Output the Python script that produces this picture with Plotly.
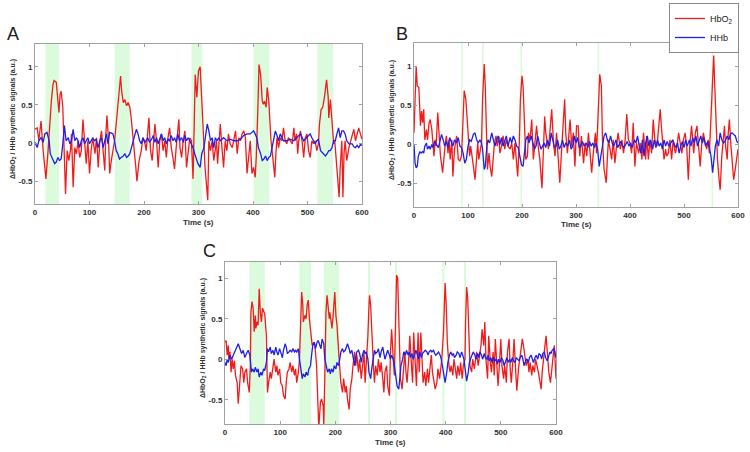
import plotly.graph_objects as go

# ---------------- data (time s, value a.u.) ----------------
a_red = [(0,0.18),(4,0.2),(7,0.03),(11,0.29),(15,-0.1),(20,-0.47),(24,-0.1),(27,0.25),(30,0.55),(33,0.77),(35,0.82),(39,0.8),(42,0.6),(44,0.4),(46,0.64),(48,0.68),(51,0.47),(54,-0.32),(56,-0.67),(59,-0.1),(62,-0.23),(65,-0.1),(67,0.12),(70,-0.58),(73,-0.06),(76,-0.14),(79,0.03),(82,-0.19),(85,-0.1),(88,0.31),(91,0.03),(94,-0.27),(97,0.03),(100,-0.4),(103,-0.1),(106,0.07),(110,-0.14),(113,0.07),(116,-0.32),(119,0.03),(122,0.16),(125,-0.1),(128,-0.36),(130,0.12),(132,0.36),(135,0.03),(137,-0.4),(140,-0.23),(143,-0.1),(146,0.03),(149,0.25),(152,0.47),(154,0.64),(157,0.88),(159,0.68),(162,0.53),(165,0.57),(168,0.49),(171,0.53),(174,0.47),(176,0.36),(179,0.16),(182,-0.1),(185,-0.32),(187,-0.5),(191,-0.23),(195,-0.1),(198,0.07),(201,0.03),(204,-0.1),(209,0.33),(212,-0.1),(215,-0.23),(220,0.25),(223,0.03),(226,-0.32),(229,0.03),(232,0.12),(235,-0.1),(238,0.03),(241,-0.19),(244,0.07),(247,0.2),(250,-0.06),(253,-0.19),(256,-0.34),(259,-0.06),(264,0.31),(266,-0.06),(269,-0.19),(272,0.03),(275,0.16),(278,-0.32),(281,-0.1),(284,0.07),(287,0.03),(290,-0.47),(292,0.2),(294,0.9),(297,0.6),(300,0.95),(303,1.0),(306,0.55),(309,0.0),(312,-0.32),(317,-0.75),(319,0.03),(322,-0.1),(325,0.03),(328,-0.23),(331,-0.1),(333,0.03),(335,-0.27),(338,0.03),(340,0.25),(343,-0.06),(346,-0.32),(349,0.03),(352,-0.1),(355,0.12),(358,-0.01),(362,-0.06),(365,0.03),(368,0.16),(371,-0.14),(374,0.07),(377,0.03),(380,0.12),(383,0.16),(386,0.07),(389,-0.4),(392,-0.19),(395,0.03),(398,-0.4),(401,-0.32),(404,-0.45),(406,-0.19),(409,0.47),(411,1.03),(414,0.9),(417,0.55),(419,0.51),(421,0.55),(424,0.47),(426,0.73),(429,0.55),(431,0.25),(433,0.03),(435,-0.1),(437,-0.27),(440,-0.45),(442,-0.14),(444,0.07),(447,-0.06),(450,0.07),(453,0.03),(456,0.2),(459,0.03),(462,-0.01),(465,0.07),(468,0.03),(472,-0.01),(475,0.2),(477,0.03),(480,0.12),(482,-0.14),(484,0.03),(487,0.16),(490,0.03),(493,-0.19),(496,0.07),(499,0.12),(502,-0.1),(505,-0.19),(508,0.03),(511,-0.01),(514,0.03),(517,-0.1),(520,-0.01),(522,0.25),(525,0.44),(528,0.47),(531,0.6),(533,0.75),(535,0.83),(538,0.6),(539,0.33),(542,0.57),(544,0.33),(546,0.12),(548,-0.01),(550,0.03),(553,-0.23),(555,-0.45),(558,-0.71),(560,-0.32),(563,0.03),(565,-0.71),(567,-0.14),(569,0.03),(572,-0.23),(576,-0.06),(579,0.03),(582,0.12),(585,0.18),(588,0.03),(591,0.1),(594,0.2),(597,0.12),(600,0.05)]
a_blue = [(0,0.01),(4,-0.06),(7,0.03),(11,0.07),(15,0.01),(18,0.12),(22,0.14),(26,0.03),(28,-0.14),(31,-0.19),(33,-0.21),(36,-0.27),(39,-0.25),(42,-0.19),(45,-0.23),(48,-0.21),(51,-0.01),(54,0.23),(57,0.03),(61,0.07),(64,-0.01),(67,0.03),(70,0.18),(73,0.03),(76,0.07),(79,0.03),(82,-0.06),(85,0.03),(88,0.07),(91,-0.01),(94,0.03),(97,0.07),(100,-0.01),(103,0.03),(106,0.07),(109,0.03),(112,0.05),(116,-0.06),(119,0.03),(122,0.07),(125,-0.06),(128,0.03),(131,0.12),(134,-0.01),(137,0.14),(140,0.13),(143,0.12),(146,0.03),(149,-0.1),(152,-0.14),(155,-0.21),(158,-0.19),(162,-0.17),(165,-0.14),(168,-0.19),(171,-0.17),(174,-0.14),(177,-0.06),(180,0.03),(183,0.12),(186,0.18),(189,0.12),(192,0.03),(195,-0.01),(198,0.07),(201,0.01),(204,0.03),(207,0.07),(210,0.01),(214,0.05),(217,0.1),(220,0.01),(223,0.07),(226,-0.01),(229,0.05),(232,0.12),(235,0.03),(238,0.07),(241,-0.01),(244,0.05),(247,0.03),(250,0.1),(253,0.03),(256,0.07),(259,0.01),(262,0.12),(265,0.03),(269,0.07),(272,0.01),(275,0.1),(278,0.03),(281,0.07),(284,0.03),(287,-0.01),(290,-0.06),(293,-0.14),(296,-0.21),(299,-0.27),(303,-0.32),(306,-0.14),(310,-0.06),(313,0.12),(316,0.25),(319,0.16),(322,0.03),(325,0.07),(328,-0.06),(331,0.07),(334,0.03),(337,0.07),(340,0.03),(343,0.05),(346,0.07),(352,0.03),(358,0.05),(365,0.03),(371,0.03),(377,0.05),(383,0.1),(389,0.12),(395,0.12),(398,0.14),(401,0.16),(404,0.12),(407,0.07),(410,-0.06),(414,-0.14),(417,-0.23),(420,-0.21),(423,-0.17),(426,-0.23),(429,-0.19),(432,-0.17),(435,-0.06),(438,0.03),(441,0.16),(444,0.1),(447,0.03),(450,0.12),(453,0.07),(456,0.03),(462,0.03),(468,0.05),(475,0.03),(481,0.07),(487,0.12),(493,0.03),(499,0.07),(505,0.12),(508,0.07),(511,0.03),(514,-0.01),(517,0.03),(520,0.05),(524,-0.1),(527,-0.12),(530,-0.14),(533,-0.17),(536,-0.14),(539,-0.1),(542,-0.1),(545,-0.06),(548,0.03),(551,0.03),(554,0.12),(557,0.2),(560,0.07),(563,0.16),(566,0.16),(569,0.12),(572,0.03),(576,-0.01),(579,-0.01),(582,-0.01),(585,-0.05),(588,-0.06),(591,-0.03),(594,-0.06),(597,-0.02),(600,-0.03)]

b_red = [(0,0.15),(2,0.7),(4,1.0),(6,0.75),(9,0.73),(11,0.4),(12,0.24),(14,0.43),(16,0.28),(18,0.45),(20,0.06),(23,0.19),(25,0.06),(28,0.28),(30,0.32),(33,0.19),(35,-0.02),(37,-0.15),(39,0.06),(41,-0.02),(44,0.41),(46,0.19),(49,-0.15),(53,-0.36),(55,-0.15),(58,0.02),(60,0.11),(63,-0.11),(65,0.06),(67,-0.19),(70,0.06),(72,-0.41),(75,-0.06),(79,0.11),(82,-0.19),(85,-0.21),(88,-0.15),(91,0.36),(93,0.69),(96,0.58),(98,0.32),(101,0.02),(103,-0.15),(105,-0.02),(107,-0.11),(110,-0.28),(113,-0.45),(116,-0.15),(118,0.02),(120,-0.19),(122,-0.11),(125,0.02),(127,0.58),(130,1.03),(132,0.75),(134,0.06),(136,-0.32),(139,-0.11),(141,-0.28),(144,-0.41),(147,-0.19),(149,0.02),(152,0.11),(154,-0.02),(157,0.11),(159,-0.11),(162,-0.02),(165,0.11),(168,-0.06),(171,0.06),(174,-0.02),(178,-0.06),(181,0.02),(184,-0.19),(187,0.02),(190,-0.32),(192,-0.41),(195,0.02),(197,0.58),(200,0.88),(202,0.75),(205,0.19),(207,-0.19),(210,-0.15),(212,0.15),(215,0.06),(218,0.32),(221,-0.19),(224,0.02),(227,0.24),(230,-0.02),(233,-0.19),(237,-0.56),(239,-0.11),(242,0.36),(244,0.15),(247,-0.02),(249,-0.06),(252,0.19),(255,0.45),(258,0.06),(261,-0.15),(264,0.15),(267,-0.11),(270,-0.49),(273,-0.11),(276,0.32),(279,0.58),(281,0.15),(284,-0.11),(286,0.06),(289,0.32),(292,-0.02),(295,0.15),(298,-0.28),(301,0.24),(304,0.24),(307,-0.15),(310,0.11),(314,-0.24),(317,0.02),(320,-0.15),(323,0.15),(326,-0.06),(329,-0.36),(332,-0.11),(336,0.15),(338,-0.11),(341,0.45),(344,0.9),(347,0.75),(349,0.06),(352,-0.32),(356,-0.49),(358,-0.19),(360,0.06),(363,-0.06),(366,-0.19),(369,0.06),(372,-0.24),(375,-0.02),(378,0.15),(382,-0.06),(385,0.06),(388,-0.11),(391,0.06),(394,0.39),(397,0.06),(400,0.02),(403,-0.11),(406,0.28),(409,-0.28),(412,0.02),(416,-0.11),(419,0.02),(422,-0.19),(425,0.15),(429,-0.19),(431,0.11),(434,-0.19),(437,0.06),(440,-0.11),(443,0.32),(446,0.06),(450,-0.02),(453,0.19),(456,0.45),(458,0.24),(461,-0.11),(463,-0.19),(466,-0.06),(468,-0.15),(471,-0.11),(474,0.06),(477,-0.19),(480,0.06),(484,-0.11),(487,-0.02),(490,0.15),(493,0.02),(496,-0.11),(499,0.06),(502,0.15),(505,-0.02),(508,-0.45),(511,0.02),(514,0.24),(518,-0.11),(521,0.15),(524,0.24),(527,-0.02),(530,-0.28),(533,0.02),(536,0.15),(539,0.02),(542,-0.06),(545,0.06),(547,-0.11),(550,0.36),(552,0.79),(555,1.14),(557,0.75),(560,0.15),(562,-0.19),(565,-0.45),(567,-0.58),(570,-0.15),(572,0.02),(575,0.24),(577,-0.02),(580,-0.19),(582,0.15),(584,0.32),(587,-0.02),(589,-0.19),(592,-0.45),(594,-0.36),(597,-0.19),(600,-0.06)]
b_blue = [(0,0),(2,-0.24),(4,-0.3),(6,-0.28),(8,-0.15),(11,-0.09),(13,-0.11),(16,-0.09),(18,-0.11),(20,-0.02),(23,0.02),(25,-0.06),(28,-0.02),(30,-0.06),(33,0),(35,-0.04),(38,0.04),(41,0),(45,-0.04),(48,0.04),(51,0.13),(54,0.06),(57,-0.02),(60,0.04),(63,-0.04),(66,0.09),(69,0.02),(72,-0.02),(75,0.06),(79,0.02),(82,0.09),(85,-0.02),(88,-0.04),(91,-0.11),(94,-0.24),(97,-0.19),(100,-0.02),(103,0.06),(106,0.04),(110,0.13),(113,0.15),(116,0.06),(119,0.02),(122,0.06),(125,0.02),(127,-0.06),(130,-0.32),(132,-0.28),(135,-0.02),(137,0.06),(140,0.02),(144,0.15),(147,0.06),(150,-0.02),(153,0.06),(156,0.11),(159,0),(162,0.09),(165,-0.02),(168,0.06),(171,0.11),(174,-0.02),(178,0.09),(181,0.02),(184,0.11),(187,0.06),(190,-0.02),(193,-0.04),(196,-0.15),(199,-0.26),(202,-0.28),(204,-0.11),(207,0.06),(210,0.11),(213,0.02),(217,0.11),(220,0),(223,-0.06),(226,-0.02),(229,0.11),(232,0.02),(235,-0.06),(238,-0.02),(241,0.02),(244,-0.04),(247,0.06),(251,-0.02),(254,0.15),(257,0.06),(260,-0.04),(263,-0.02),(266,0.06),(269,-0.06),(272,-0.02),(275,0.06),(278,-0.04),(281,0.02),(285,-0.02),(288,0.06),(291,-0.06),(294,-0.02),(297,0.11),(300,0.02),(303,0.09),(306,-0.04),(309,-0.02),(312,0.04),(315,-0.02),(319,0.02),(322,-0.04),(325,0.04),(328,-0.02),(331,0.02),(334,-0.04),(337,0.02),(340,-0.06),(343,-0.28),(346,-0.15),(349,0.02),(352,0.11),(355,0.15),(358,0.06),(361,0.02),(364,0.11),(367,0.02),(370,-0.02),(374,0.06),(377,-0.04),(380,0),(383,0.04),(386,-0.02),(389,-0.04),(392,0),(395,0.04),(398,-0.02),(401,0.02),(404,-0.04),(408,0.06),(411,0.02),(414,0.11),(417,-0.02),(420,-0.11),(423,0.06),(426,-0.15),(429,0.02),(432,0.11),(435,-0.02),(438,0.06),(442,-0.06),(445,0.06),(448,-0.04),(451,0.06),(454,-0.02),(457,0.02),(460,-0.06),(463,0.06),(466,-0.02),(469,0.04),(472,-0.02),(476,0.02),(479,0.06),(482,0),(485,-0.04),(488,0.02),(491,-0.11),(494,-0.02),(497,0.04),(500,-0.04),(503,0.06),(506,-0.02),(510,0.06),(513,-0.02),(516,0.09),(519,0.02),(522,0.11),(525,-0.02),(528,0.06),(531,0.11),(534,0.02),(537,0.09),(540,-0.02),(544,0.04),(547,-0.04),(550,-0.15),(553,-0.36),(555,-0.24),(558,-0.02),(561,0.06),(564,-0.02),(567,0.15),(570,0.06),(573,0.02),(576,0.04),(580,0.11),(583,0.06),(586,0.13),(589,0.15),(592,0.13),(595,0.11),(598,0.04),(600,0.02)]

c_red = [(0,0.21),(2,0.23),(4,0.05),(6,0.17),(7,0),(9,0.09),(11,-0.16),(13,0),(15,-0.12),(17,-0.02),(19,-0.2),(22,-0.29),(24,-0.55),(27,-0.29),(29,-0.08),(32,-0.12),(34,-0.29),(36,-0.16),(39,-0.12),(41,-0.29),(44,-0.41),(46,-0.08),(47,0.58),(49,0.71),(51,0.63),(53,0.34),(55,0.54),(56,0.38),(58,0.46),(60,0.42),(62,0.87),(64,0.58),(66,0.46),(68,0.63),(70,0.6),(72,0.56),(75,0.29),(77,-0.41),(79,-0.29),(82,-0.16),(84,-0.24),(87,-0.08),(89,0),(92,-0.16),(94,-0.08),(96,-0.2),(99,-0.12),(101,-0.29),(104,-0.33),(106,-0.45),(109,-0.49),(111,-0.29),(113,-0.16),(116,-0.12),(118,-0.04),(121,-0.16),(123,-0.08),(126,-0.2),(128,-0.12),(130,-0.29),(133,-0.16),(135,0),(137,0.46),(139,0.83),(141,0.67),(142,0.46),(145,0.54),(147,0.5),(149,0.67),(151,0.73),(153,0.5),(156,0.25),(158,0.17),(161,0.21),(163,0.17),(166,-0.08),(168,-0.58),(170,-0.85),(173,-0.53),(175,-0.49),(178,-0.58),(179,-0.82),(181,-0.2),(183,0.58),(185,0.79),(187,0.58),(189,0.5),(190,0.58),(192,0.46),(194,0.38),(196,0.54),(198,0.75),(199,0.83),(201,0.54),(203,0.42),(206,0.09),(208,-0.08),(210,-0.29),(213,-0.41),(215,-0.24),(218,-0.41),(220,-0.33),(222,-0.49),(225,-0.62),(227,-0.37),(230,-0.24),(232,-0.08),(235,0.09),(237,-0.08),(239,0.05),(242,-0.16),(244,0),(247,-0.24),(249,-0.08),(252,0.09),(254,-0.29),(256,-0.08),(259,0.29),(261,0.67),(262,0.79),(264,0.67),(266,0.29),(269,-0.08),(271,-0.29),(273,-0.08),(276,-0.2),(278,0),(281,-0.16),(283,-0.04),(286,-0.24),(288,-0.41),(290,-0.16),(293,-0.08),(295,-0.33),(298,-0.45),(300,0.09),(302,0.37),(305,0),(307,-0.2),(309,0.42),(311,1.04),(313,1.0),(315,0.58),(316,0.09),(318,-0.24),(321,-0.37),(323,-0.16),(326,0.09),(328,-0.16),(330,-0.29),(333,0),(335,0.29),(338,-0.08),(340,-0.29),(342,0.33),(345,0),(347,-0.33),(350,0.33),(352,-0.16),(355,0.33),(357,-0.08),(359,-0.29),(362,-0.16),(364,-0.33),(367,-0.12),(369,-0.29),(372,-0.08),(374,0.05),(376,-0.16),(379,-0.33),(381,-0.37),(384,-0.29),(386,-0.12),(389,-0.24),(391,-0.12),(393,0),(396,0.33),(398,0.83),(399,0.94),(401,0.67),(403,0.21),(406,-0.08),(408,-0.16),(410,-0.08),(413,-0.2),(415,0),(418,-0.12),(420,-0.24),(422,-0.08),(425,-0.2),(427,-0.04),(430,-0.24),(432,-0.08),(435,0),(436,0.42),(438,0.89),(440,0.75),(442,0.29),(444,-0.08),(447,-0.16),(449,0),(452,-0.12),(454,0),(456,0.09),(459,-0.08),(461,0),(464,0.17),(466,0.37),(469,0.17),(471,0.46),(473,0),(476,-0.24),(478,0.29),(481,-0.04),(483,-0.16),(486,0.09),(488,-0.2),(490,0.25),(493,-0.16),(495,-0.33),(498,0),(500,0.25),(502,-0.08),(505,-0.24),(507,-0.08),(510,-0.29),(512,0.09),(515,0.25),(517,-0.12),(519,-0.29),(522,0),(524,0.25),(527,-0.16),(529,-0.39),(532,-0.12),(534,0),(536,0.09),(539,0.25),(541,0.17),(544,0.05),(546,-0.08),(549,0),(551,-0.16),(553,-0.04),(556,-0.2),(558,-0.08),(561,-0.16),(563,0),(566,-0.08),(568,-0.16),(570,-0.24),(573,-0.37),(575,-0.16),(578,0),(580,0.17),(582,0.29),(585,0),(587,-0.16),(590,-0.29),(592,-0.12),(595,0.05),(597,0.17),(600,-0.24)]
c_blue = [(0,-0.04),(2,-0.08),(4,0),(6,-0.04),(9,0.05),(12,0),(15,0.05),(18,0.09),(21,0.13),(24,0.19),(27,0.13),(30,0.07),(33,0.11),(36,0.02),(39,0.07),(42,0.11),(45,0.05),(48,-0.16),(50,-0.12),(53,-0.16),(55,-0.1),(58,-0.16),(60,-0.12),(62,-0.22),(65,-0.16),(67,-0.2),(70,-0.12),(72,-0.14),(75,-0.04),(77,0.13),(79,0.09),(82,0.15),(84,0.07),(87,0.11),(89,0.05),(92,0.15),(94,0.09),(96,0.05),(99,0.13),(101,0.07),(104,0.02),(106,0.11),(109,0.19),(111,0.15),(113,0.07),(116,0.09),(118,0.11),(121,0.09),(123,0.13),(126,0.09),(128,0.11),(130,0.09),(133,0.13),(135,0),(138,-0.16),(140,-0.24),(142,-0.18),(145,-0.22),(147,-0.16),(150,-0.2),(152,-0.12),(155,-0.08),(157,0.05),(159,0.17),(162,0.21),(164,0.13),(167,0.21),(169,0.23),(172,0.17),(174,0.13),(176,0.25),(179,0.19),(181,0),(184,-0.12),(186,-0.16),(189,-0.12),(191,-0.18),(193,-0.12),(196,-0.16),(198,-0.08),(201,-0.12),(203,-0.04),(206,-0.08),(208,0),(210,0.09),(213,0.13),(215,0.09),(218,0.11),(220,0.17),(222,0.19),(225,0.13),(227,0.07),(230,0.11),(232,0.05),(235,-0.08),(237,0.02),(239,0.09),(242,0.11),(244,0.07),(247,-0.04),(249,0.05),(252,0.11),(254,0.07),(256,0.09),(259,0),(261,-0.16),(264,-0.24),(266,-0.12),(269,0.05),(271,0.11),(273,0.07),(276,0.09),(278,0.13),(281,0.02),(283,0.09),(286,0.15),(288,0.07),(290,0),(293,0.07),(295,0.11),(298,0.05),(300,0),(302,0.05),(305,0),(307,-0.08),(310,-0.2),(312,-0.33),(315,-0.37),(317,-0.24),(319,-0.08),(322,0),(324,0.09),(327,0.05),(329,0.11),(332,0.05),(334,0.09),(336,0.02),(339,0.07),(341,0),(344,0.07),(346,0.11),(349,0.05),(351,0),(353,0.09),(356,0.02),(358,0.07),(361,0.09),(363,0.11),(366,0.09),(368,0.05),(370,0.09),(373,0.11),(375,0.09),(378,0.11),(380,0.07),(382,0.05),(385,0.07),(387,0.09),(390,0.05),(392,0),(395,-0.12),(397,-0.24),(399,-0.29),(402,-0.16),(404,-0.04),(407,0.05),(409,0.09),(412,0.05),(414,0.07),(416,0.02),(419,0.05),(421,0.09),(424,0.07),(426,0.02),(429,0.09),(431,0.05),(433,0),(436,-0.16),(438,-0.27),(441,-0.16),(443,-0.04),(446,0.02),(448,0.05),(450,0.09),(453,0.05),(455,0),(458,0.07),(460,0.02),(462,0.09),(465,0.05),(467,0),(470,0.07),(472,0.02),(475,0),(477,0.05),(479,-0.02),(482,0.02),(484,-0.04),(487,0.02),(489,-0.02),(492,0),(494,-0.06),(496,0),(499,-0.04),(501,0.02),(504,-0.02),(506,-0.08),(509,-0.02),(511,0.02),(513,-0.04),(516,0),(518,-0.04),(521,0.02),(523,-0.02),(526,-0.04),(528,0.02),(530,0),(533,-0.02),(535,0.02),(538,0.05),(540,0),(542,-0.08),(545,-0.02),(547,0),(550,-0.04),(552,0.02),(555,0.05),(557,0),(559,-0.04),(562,0.02),(564,0.05),(567,0),(569,0.07),(572,0.05),(574,0),(576,0.07),(579,0.09),(581,0.02),(584,-0.02),(586,0.02),(589,0.09),(591,0.07),(593,0.11),(596,0.13),(598,0.09),(600,0.02)]

# stimulus blocks (start, end) in seconds
a_blocks = [(19, 44), (146, 174), (287, 307), (401, 430), (518, 547)]
b_blocks = [(87, 90), (126, 129), (197, 200), (340, 343), (551, 554)]
c_blocks = [(44, 72), (135, 156), (179, 207), (259, 263), (308, 312), (394, 398), (433, 437)]

x_ticks = [0, 100, 200, 300, 400, 500, 600]
y_ticks = [-0.5, 0, 0.5, 1]
y_tick_text = ["-0.5", "0", "0.5", "1"]
series_names = ["HbO<sub>2</sub>", "HHb"]
panel_letters = ["A", "B", "C"]

# ---------------- figure ----------------
W, H = 750, 452
RED = "#f21b1b"
BLUE = "#1f1fe6"
GREEN = "#dcfadc"
FONT = "Liberation Sans, Arial, sans-serif"

fig = go.Figure()

panels = [
    dict(data=(a_red, a_blue), blocks=a_blocks, xd=(35, 362), yd=(44, 204), yr=(-0.8, 1.3), legend=False),
    dict(data=(b_red, b_blue), blocks=b_blocks, xd=(414, 738), yd=(43, 207), yr=(-0.8, 1.3), legend=True),
    dict(data=(c_red, c_blue), blocks=c_blocks, xd=(225, 556), yd=(262, 424), yr=(-0.8, 1.2), legend=False),
]

def px(x):
    return x / W

def py(y):
    return 1 - y / H

shapes = []
annotations = []
for i, p in enumerate(panels):
    n = "" if i == 0 else str(i + 1)
    xa, ya = "x" + n, "y" + n
    red, blue = p["data"]
    for s, (series, col) in enumerate(((red, RED), (blue, BLUE))):
        fig.add_trace(go.Scatter(
            x=[t for t, v in series], y=[v for t, v in series],
            mode="lines", line=dict(color=col, width=1.3),
            name=series_names[s], showlegend=p["legend"],
            xaxis=xa, yaxis=ya, hoverinfo="skip"))
    for (s0, s1) in p["blocks"]:
        shapes.append(dict(type="rect", xref=xa, yref=ya + " domain", x0=s0, x1=s1, y0=0, y1=1,
                           fillcolor=GREEN, line=dict(width=0), layer="below"))
    ax = dict(domain=[px(p["xd"][0]), px(p["xd"][1])], range=[0, 600], tickvals=x_ticks,
              ticktext=["<b>%d</b>" % v for v in x_ticks], showgrid=False, zeroline=False,
              showline=True, linecolor="#a0a0a0", linewidth=1, mirror="ticks", ticks="inside",
              ticklen=3, tickcolor="#a0a0a0", tickfont=dict(family=FONT, size=8, color="#303030"),
              anchor=ya, fixedrange=True, automargin=False)
    ay = dict(domain=[py(p["yd"][1]), py(p["yd"][0])], range=list(p["yr"]), tickvals=y_ticks,
              ticktext=["<b>%s</b>" % t for t in y_tick_text], showgrid=False, zeroline=False,
              showline=True, linecolor="#a0a0a0", linewidth=1, mirror="ticks", ticks="inside",
              ticklen=3, tickcolor="#a0a0a0", tickfont=dict(family=FONT, size=8, color="#303030"),
              anchor=xa, fixedrange=True, automargin=False)
    fig.layout["xaxis" + n] = ax
    fig.layout["yaxis" + n] = ay
    # axis titles
    xc = (p["xd"][0] + p["xd"][1]) / 2
    annotations.append(dict(text="<b>Time (s)</b>", x=px(xc), y=py(p["yd"][1] + 18), xref="paper", yref="paper",
                            showarrow=False, font=dict(family=FONT, size=8, color="#303030"),
                            xanchor="center", yanchor="middle"))
    yc = (p["yd"][0] + p["yd"][1]) / 2 - 5
    annotations.append(dict(text="<b>\u0394HbO<sub>2</sub> / HHb synthetic signals (a.u.)</b>",
                            x=px(p["xd"][0] - 22), y=py(yc), xref="paper", yref="paper",
                            showarrow=False, textangle=-90, font=dict(family=FONT, size=7, color="#303030"),
                            xanchor="center", yanchor="middle"))

letter_pos = [(13, 34), (402, 34), (209, 251)]
for L, (lx, ly) in zip(panel_letters, letter_pos):
    annotations.append(dict(text=L, x=px(lx), y=py(ly), xref="paper", yref="paper", showarrow=False,
                            font=dict(family=FONT, size=18, color="#202020"), xanchor="center", yanchor="middle"))

fig.update_layout(
    width=W, height=H, autosize=False,
    margin=dict(l=0, r=0, t=0, b=0),
    paper_bgcolor="white", plot_bgcolor="white",
    shapes=shapes, annotations=annotations,
    showlegend=True,
    legend=dict(x=px(739), y=py(3), xanchor="right", yanchor="top", bgcolor="white",
                bordercolor="#8a8a8a", borderwidth=1, font=dict(family=FONT, size=9, color="#202020"),
                itemwidth=30, tracegroupgap=0),
)

fig.write_html("out.html", config={"displayModeBar": False, "staticPlot": True},
               post_script="document.body.style.margin='0px';document.body.style.padding='0px';")
